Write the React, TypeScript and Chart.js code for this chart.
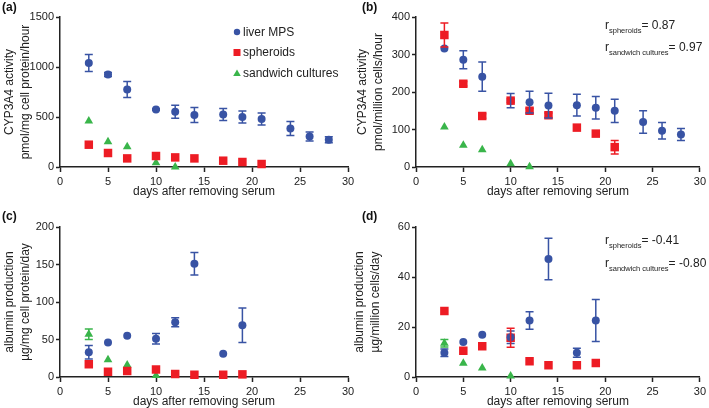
import React, { useEffect, useRef } from "react";
import { Chart, registerables } from "chart.js";
Chart.register(...registerables);

const BLUE = "#3853a4";
const RED = "#ed1c24";
const GREEN = "#39b54a";
const FONT = '"Liberation Sans", Arial, sans-serif';

// ---- data ----
const seriesNames = ["liver MPS", "spheroids", "sandwich cultures"];
const xTicksMax = 30;

const mpsDays = [3, 5, 7, 10, 12, 14, 17, 19, 21, 24, 26, 28];
const sphDays = [3, 5, 7, 10, 12, 14, 17, 19, 21];
const sandDays = [3, 5, 7, 10, 12];

const mpsCypProtein = [1041, 925, 775, 575, 552, 519, 525, 499, 479, 386, 306, 273];
const mpsCypProteinErr = [85, 20, 80, 8, 65, 75, 60, 60, 60, 70, 45, 30];
const sphCypProtein = [223, 140, 86, 110, 96, 86, 63, 50, 30];
const sandCypProtein = [459, 253, 203, 43, 0];

const mpsCypCells = [316, 286, 241, 177, 173, 164, 165, 158, 150, 120, 97, 87];
const mpsCypCellsErr = [0, 24, 39, 19, 29, 33, 29, 30, 31, 30, 22, 16];
const sphCypCells = [352, 222, 136, 177, 150, 138, 105, 89, 53];
const sphCypCellsErr = [32, 6, 6, 5, 6, 6, 0, 0, 18];
const sandCypCells = [107, 58, 46, 9, 1];

const albDays = [3, 5, 7, 10, 12, 14, 17, 19];
const sandAlbDays = [3, 5, 7, 10];

const mpsAlbProtein = [33, 46, 55, 51, 73, 151, 31, 69];
const mpsAlbProteinErr = [9, 0, 0, 7, 6, 15, 0, 23];
const sphAlbProtein = [17, 7, 8, 10, 4, 3, 3, 3.5];
const sandAlbProtein = [57, 23, 16, 2];
const sandAlbProteinErr = [7, 0, 0, 0];

const mpsAlbCells = [9.7, 14, 16.9, 15.9, 22.6, 47.2, 9.7, 22.6];
const mpsAlbCellsErr = [1.5, 0, 0, 2.5, 3.5, 8.3, 1.8, 8.4];
const sphAlbCells = [26.4, 10.5, 12.3, 15.7, 6.3, 4.7, 4.7, 5.6];
const sphAlbCellsErr = [0, 0, 0, 3.8, 0, 0, 0, 0];
const sandAlbCells = [13.5, 5.5, 3.6, 0.4];
const sandAlbCellsErr = [1.5, 0, 0, 0];

const rCypLabels = ["spheroids", "sandwich cultures"];
const rCypValues = ["0.87", "0.97"];
const rAlbValues = ["-0.41", "-0.80"];

const xTitle = "days after removing serum";

// ---- helpers ----
function ds(label: string, xs: number[], ys: number[], errs: number[] | null, color: string, style: string, radius: number) {
  return {
    label,
    data: xs.map((x, i) => ({ x, y: ys[i] })),
    errors: errs,
    backgroundColor: color,
    borderColor: color,
    pointStyle: style,
    pointRadius: radius,
    pointHoverRadius: radius,
    borderWidth: 0,
    pointBorderWidth: 0,
    showLine: false,
    clip: false,
  };
}

const errorBarPlugin = {
  id: "errbars",
  afterDatasetsDraw(chart: any) {
    const ctx = chart.ctx;
    const yScale = chart.scales.y;
    chart.data.datasets.forEach((d: any, di: number) => {
      if (!d.errors) return;
      const meta = chart.getDatasetMeta(di);
      meta.data.forEach((pt: any, i: number) => {
        const e = d.errors[i];
        if (!e) return;
        const v = d.data[i].y;
        const y1 = yScale.getPixelForValue(v + e);
        const y2 = yScale.getPixelForValue(Math.max(0, v - e));
        ctx.save();
        ctx.strokeStyle = d.borderColor;
        ctx.lineWidth = 1.5;
        ctx.beginPath();
        ctx.moveTo(pt.x, y1);
        ctx.lineTo(pt.x, y2);
        ctx.moveTo(pt.x - 4, y1);
        ctx.lineTo(pt.x + 4, y1);
        ctx.moveTo(pt.x - 4, y2);
        ctx.lineTo(pt.x + 4, y2);
        ctx.stroke();
        ctx.restore();
      });
    });
  },
};

function drawR(ctx: CanvasRenderingContext2D, x: number, y: number, sub: string, val: string) {
  ctx.fillStyle = "#222";
  ctx.textBaseline = "alphabetic";
  ctx.textAlign = "left";
  ctx.font = `12px ${FONT}`;
  ctx.fillText("r", x, y);
  let w = ctx.measureText("r").width;
  ctx.font = `7.5px ${FONT}`;
  ctx.fillText(sub, x + w, y + 4);
  w += ctx.measureText(sub).width;
  ctx.font = `12px ${FONT}`;
  ctx.fillText("= " + val, x + w, y);
}

function drawLegend(ctx: CanvasRenderingContext2D, x: number, y: number) {
  const styles = [
    { c: BLUE, s: "circle" },
    { c: RED, s: "rect" },
    { c: GREEN, s: "triangle" },
  ];
  styles.forEach((st, i) => {
    const cy = y + i * 20.5;
    ctx.fillStyle = st.c;
    ctx.beginPath();
    if (st.s === "circle") {
      ctx.arc(x, cy, 3.2, 0, Math.PI * 2);
    } else if (st.s === "rect") {
      ctx.rect(x - 3.5, cy - 3.5, 7, 7);
    } else {
      ctx.moveTo(x, cy - 3.5);
      ctx.lineTo(x + 3.8, cy + 3);
      ctx.lineTo(x - 3.8, cy + 3);
      ctx.closePath();
    }
    ctx.fill();
    ctx.fillStyle = "#222";
    ctx.font = `12px ${FONT}`;
    ctx.textBaseline = "middle";
    ctx.textAlign = "left";
    ctx.fillText(seriesNames[i], x + 6, cy + 0.5);
  });
}

type PanelProps = {
  left: number;
  top: number;
  width: number;
  height: number;
  padTop: number;
  padRight: number;
  yWidth: number;
  xHeight: number;
  yMax: number;
  yStep: number;
  yTitle: string[];
  yTitlePad: number;
  datasets: any[];
  label: string;
  labelX: number;
  labelY: number;
  deco?: (ctx: CanvasRenderingContext2D) => void;
};

function Panel(p: PanelProps) {
  const ref = useRef<HTMLCanvasElement | null>(null);
  useEffect(() => {
    if (!ref.current) return;
    const axisCol = "#222";
    const decoPlugin = {
      id: "deco",
      afterDraw(chart: any) {
        const ctx = chart.ctx;
        ctx.save();
        ctx.fillStyle = "#111";
        ctx.font = `bold 12px ${FONT}`;
        ctx.textBaseline = "alphabetic";
        ctx.textAlign = "left";
        ctx.fillText(p.label, p.labelX, p.labelY);
        if (p.deco) p.deco(ctx);
        ctx.restore();
      },
    };
    const chart = new Chart(ref.current, {
      type: "scatter",
      data: { datasets: p.datasets },
      options: {
        animation: false,
        responsive: false,
        devicePixelRatio: 1,
        events: [],
        layout: {
          autoPadding: false,
          padding: { top: p.padTop, right: p.padRight, left: 0, bottom: 0 },
        },
        plugins: {
          legend: { display: false },
          tooltip: { enabled: false },
        },
        scales: {
          x: {
            type: "linear",
            min: 0,
            max: xTicksMax,
            afterFit: (s: any) => {
              s.height = p.xHeight;
            },
            ticks: {
              stepSize: 5,
              color: axisCol,
              font: { family: FONT, size: 11 },
              padding: 3,
              callback: (v: any) => String(v),
            },
            grid: {
              drawOnChartArea: false,
              drawTicks: true,
              tickLength: 5,
              tickColor: axisCol,
              tickWidth: 1.5,
            },
            border: { display: true, color: axisCol, width: 1.5 },
            title: {
              display: true,
              text: xTitle,
              color: axisCol,
              font: { family: FONT, size: 12, lineHeight: 1.2 },
              padding: { top: 0, bottom: 1 },
            },
          },
          y: {
            type: "linear",
            min: 0,
            max: p.yMax,
            afterFit: (s: any) => {
              s.width = p.yWidth;
            },
            ticks: {
              stepSize: p.yStep,
              color: axisCol,
              font: { family: FONT, size: 11 },
              padding: 2,
              callback: (v: any) => String(v),
            },
            grid: {
              drawOnChartArea: false,
              drawTicks: true,
              tickLength: 4,
              tickColor: axisCol,
              tickWidth: 1.5,
            },
            border: { display: true, color: axisCol, width: 1.5 },
            title: {
              display: true,
              text: p.yTitle,
              color: axisCol,
              font: { family: FONT, size: 12, lineHeight: 1.3 },
              padding: { top: p.yTitlePad, bottom: 0 },
            },
          },
        },
      } as any,
      plugins: [errorBarPlugin, decoPlugin],
    });
    return () => chart.destroy();
  }, []);
  return (
    <canvas
      ref={ref}
      width={p.width}
      height={p.height}
      style={{ position: "absolute", left: p.left, top: p.top, width: p.width, height: p.height }}
    />
  );
}

export default function App() {
  const dsA = [
    ds(seriesNames[1], sphDays, sphCypProtein, null, RED, "rect", 6),
    ds(seriesNames[0], mpsDays, mpsCypProtein, mpsCypProteinErr, BLUE, "circle", 4),
    ds(seriesNames[2], sandDays, sandCypProtein, null, GREEN, "triangle", 5),
  ];
  const dsB = [
    ds(seriesNames[1], sphDays, sphCypCells, sphCypCellsErr, RED, "rect", 6),
    ds(seriesNames[0], mpsDays, mpsCypCells, mpsCypCellsErr, BLUE, "circle", 4),
    ds(seriesNames[2], sandDays, sandCypCells, null, GREEN, "triangle", 5),
  ];
  const dsC = [
    ds(seriesNames[1], albDays, sphAlbProtein, null, RED, "rect", 6),
    ds(seriesNames[0], albDays, mpsAlbProtein, mpsAlbProteinErr, BLUE, "circle", 4),
    ds(seriesNames[2], sandAlbDays, sandAlbProtein, sandAlbProteinErr, GREEN, "triangle", 5),
  ];
  const dsD = [
    ds(seriesNames[0], albDays, mpsAlbCells, mpsAlbCellsErr, BLUE, "circle", 4),
    ds(seriesNames[1], albDays, sphAlbCells, sphAlbCellsErr, RED, "rect", 6),
    ds(seriesNames[2], sandAlbDays, sandAlbCells, sandAlbCellsErr, GREEN, "triangle", 5),
  ];
  return (
    <div style={{ position: "fixed", left: 0, top: 0, width: 709, height: 408, overflow: "hidden", background: "#fff" }}>
      <Panel
        left={0} top={0} width={360} height={200}
        padTop={17} padRight={12} yWidth={60} xHeight={33}
        yMax={1500} yStep={500}
        yTitle={["CYP3A4 activity", "pmol/mg cell protein/hour"]} yTitlePad={2.2}
        datasets={dsA} label="(a)" labelX={2} labelY={11}
        deco={(ctx) => drawLegend(ctx, 237, 32)}
      />
      <Panel
        left={350} top={0} width={359} height={200}
        padTop={17} padRight={7} yWidth={66} xHeight={33}
        yMax={400} yStep={100}
        yTitle={["CYP3A4 activity", "pmol/million cells/hour"]} yTitlePad={5}
        datasets={dsB} label="(b)" labelX={12} labelY={11}
        deco={(ctx) => {
          drawR(ctx, 255, 29, rCypLabels[0], rCypValues[0]);
          drawR(ctx, 255, 51, rCypLabels[1], rCypValues[1]);
        }}
      />
      <Panel
        left={0} top={198} width={360} height={212}
        padTop={29} padRight={12} yWidth={60} xHeight={33}
        yMax={200} yStep={50}
        yTitle={["albumin production", "µg/mg cell protein/day"]} yTitlePad={2.2}
        datasets={dsC} label="(c)" labelX={2} labelY={22}
      />
      <Panel
        left={350} top={198} width={359} height={212}
        padTop={29} padRight={7} yWidth={66} xHeight={33}
        yMax={60} yStep={20}
        yTitle={["albumin production", "µg/million cells/day"]} yTitlePad={2.2}
        datasets={dsD} label="(d)" labelX={12} labelY={22}
        deco={(ctx) => {
          drawR(ctx, 255, 46, rCypLabels[0], rAlbValues[0]);
          drawR(ctx, 255, 69, rCypLabels[1], rAlbValues[1]);
        }}
      />
    </div>
  );
}
